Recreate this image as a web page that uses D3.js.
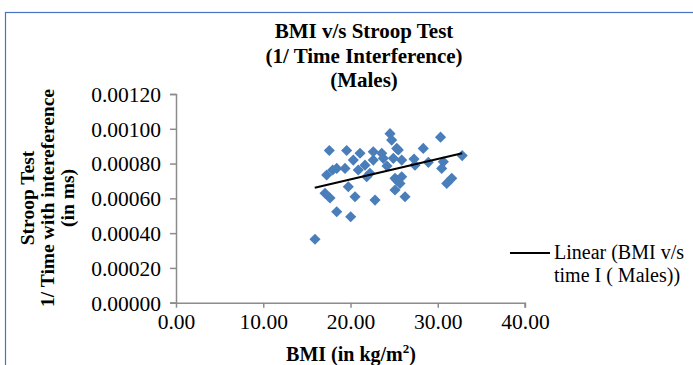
<!DOCTYPE html>
<html>
<head>
<meta charset="utf-8">
<script src="https://cdn.jsdelivr.net/npm/d3@7"></script>
<style>
  html, body { margin: 0; padding: 0; background: #fff; }
  svg { display: block; }
</style>
</head>
<body>
<div id="chart"></div>
<script>
// ---- data ----
const bmi = [15.93, 17.57, 19.56, 24.53, 24.72, 25.30, 30.32, 28.34, 32.80, 30.64,
             30.45, 31.60, 31.03, 27.39, 28.92, 25.10, 25.67, 25.10, 26.25, 23.76,
             21.09, 22.61, 23.58, 20.32, 21.66, 22.61, 24.91, 25.87, 19.37, 20.89,
             22.23, 25.87, 17.96, 17.27, 17.08, 17.65, 19.75, 20.52, 22.81, 18.42,
             20.02, 21.86, 25.48, 27.28, 18.42, 24.18, 25.30];
const invTime = [0.000365, 0.000875, 0.000875, 0.000972, 0.000935, 0.000887, 0.000952, 0.000887, 0.000846, 0.000810,
                 0.000772, 0.000715, 0.000686, 0.000791, 0.000807, 0.000715, 0.000686, 0.000648, 0.000609, 0.000830,
                 0.000859, 0.000868, 0.000859, 0.000820, 0.000791, 0.000820, 0.000830, 0.000820, 0.000772, 0.000763,
                 0.000744, 0.000724, 0.000763, 0.000734, 0.000629, 0.000602, 0.000667, 0.000609, 0.000590, 0.000523,
                 0.000494, 0.000724, 0.000878, 0.000826, 0.000772, 0.000786, 0.000705];
const trendX = [15.9, 32.8];
const trendY = [0.000661, 0.000859];
const xTicks = [0, 10, 20, 30, 40];
const yTicks = [0, 0.0002, 0.0004, 0.0006, 0.0008, 0.0010, 0.0012];
const titleLines = ["BMI v/s Stroop Test", "(1/ Time Interference)", "(Males)"];
const yTitleLines = ["Stroop Test", "1/ Time with intereference", "(in ms)"];
const xTitle = "BMI (in kg/m";
const legendLines = ["Linear (BMI v/s", "time I ( Males))"];

const W = 693, H = 365;
const serif = "'Liberation Serif', 'Times New Roman', serif";
const svg = d3.select("#chart").append("svg").attr("width", W).attr("height", H);

// frame
svg.append("rect").attr("x", 5.5).attr("y", 12.5).attr("width", 800).attr("height", 400)
  .attr("fill", "none").attr("stroke", "#4a72c4").attr("stroke-width", 1.2);

const x = d3.scaleLinear().domain([0, 40]).range([176, 525]);
const y = d3.scaleLinear().domain([0, 0.0012]).range([302.7, 94]);

// axes
const axisColor = "#8c8c8c";
const gx = svg.append("g").attr("transform", `translate(0,${y(0)})`)
  .call(d3.axisBottom(x).tickValues(xTicks).tickFormat(d3.format(".2f")).tickSize(5).tickPadding(6));
const gy = svg.append("g").attr("transform", `translate(${x(0)},0)`)
  .call(d3.axisLeft(y).tickValues(yTicks).tickFormat(d3.format(".5f")).tickSize(6).tickPadding(9));
[gx, gy].forEach(g => {
  g.select(".domain").attr("stroke", axisColor).attr("stroke-width", 1.5);
  g.selectAll(".tick line").attr("stroke", axisColor).attr("stroke-width", 1.5);
  g.selectAll(".tick text").attr("fill", "#000").attr("font-family", serif).attr("font-size", 21.5);
});
gx.selectAll(".tick text").attr("dy", "0.72em");
gy.selectAll(".tick text").attr("dy", "0.34em");
gx.select(".domain").attr("d", `M${x(0) - 6},0.5H${x(40)}V5`);

// points (diamonds)
const pts = bmi.map((b, i) => [b, invTime[i]]);
const sym = d3.symbol().type(d3.symbolSquare).size(62);
svg.append("g").selectAll("path").data(pts).join("path")
  .attr("d", sym)
  .attr("transform", d => `translate(${x(d[0])},${y(d[1])}) rotate(45)`)
  .attr("fill", "#4a7ebb");

// trendline (drawn above markers)
svg.append("line")
  .attr("x1", x(trendX[0])).attr("y1", y(trendY[0]))
  .attr("x2", x(trendX[1])).attr("y2", y(trendY[1]))
  .attr("stroke", "#000").attr("stroke-width", 2);

// title
svg.append("g").selectAll("text").data(titleLines).join("text")
  .attr("x", 364).attr("y", (d, i) => 38 + i * 24.5)
  .attr("text-anchor", "middle").attr("font-family", serif).attr("font-weight", "bold")
  .attr("font-size", 21).text(d => d);

// y title
const ytx = [27, 47, 67];
svg.append("g").selectAll("text").data(yTitleLines).join("text")
  .attr("transform", (d, i) => `translate(${ytx[i] + 7},198) rotate(-90)`)
  .attr("text-anchor", "middle").attr("font-family", serif).attr("font-weight", "bold")
  .attr("font-size", 19.5).text(d => d);

// x title
const xt = svg.append("text").attr("x", 351).attr("y", 361).attr("text-anchor", "middle")
  .attr("font-family", serif).attr("font-weight", "bold").attr("font-size", 20);
xt.append("tspan").text(xTitle);
xt.append("tspan").attr("font-size", 13).attr("dy", -8).text("2");
xt.append("tspan").attr("dy", 8).text(")");

// legend
svg.append("line").attr("x1", 510).attr("x2", 550).attr("y1", 253).attr("y2", 253)
  .attr("stroke", "#000").attr("stroke-width", 2);
svg.append("g").selectAll("text").data(legendLines).join("text")
  .attr("x", 554).attr("y", (d, i) => 259 + i * 23)
  .attr("font-family", serif).attr("font-size", 20).text(d => d);
</script>
</body>
</html>
